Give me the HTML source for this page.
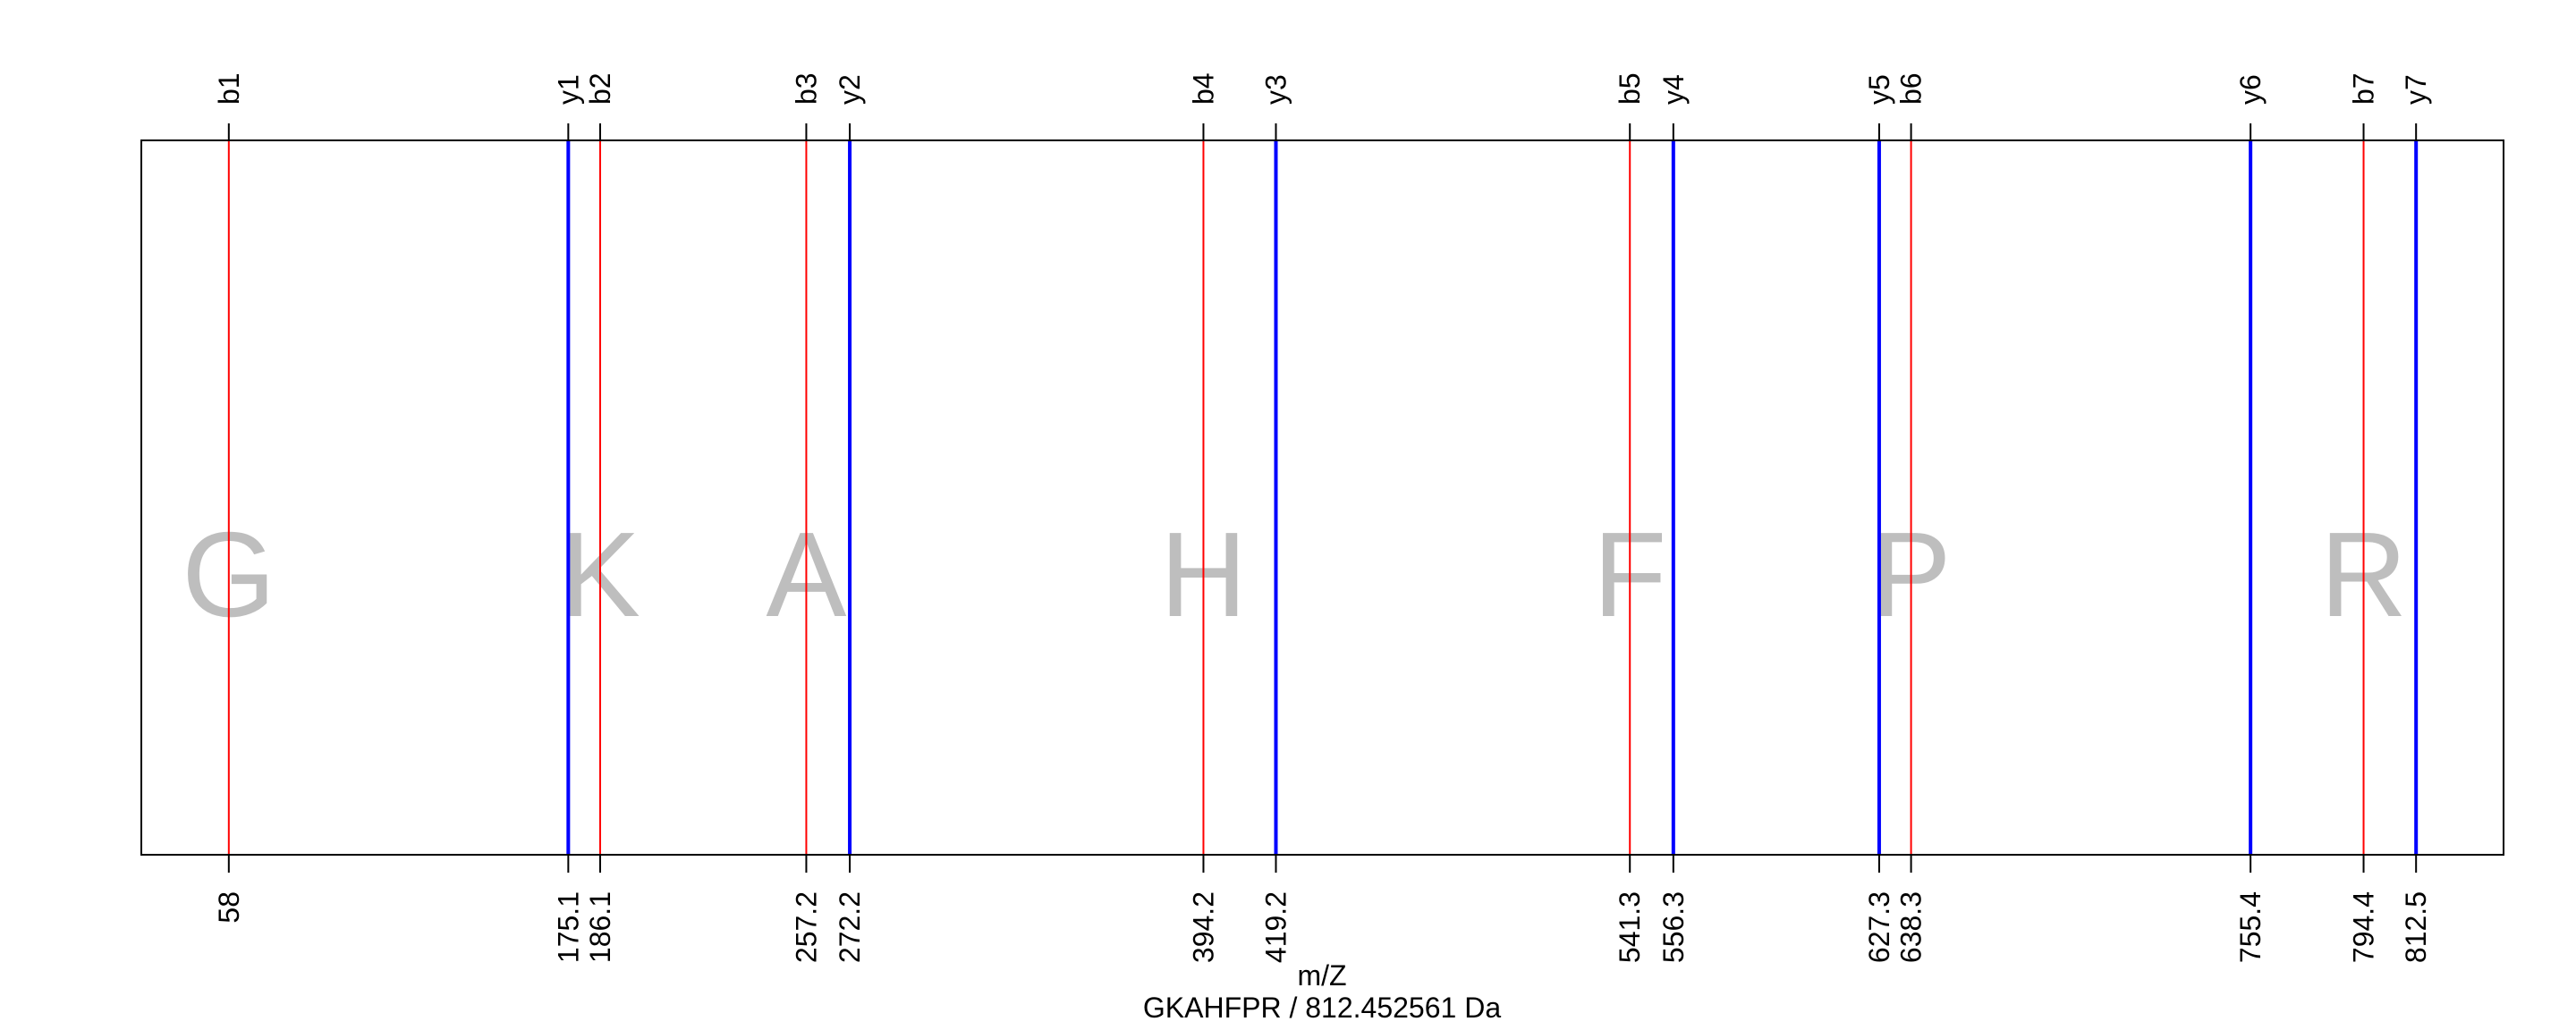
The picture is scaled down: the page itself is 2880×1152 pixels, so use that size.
<!DOCTYPE html>
<html><head><meta charset="utf-8"><style>
html,body{margin:0;padding:0;background:#fff;}
svg{display:block;font-family:"Liberation Sans",Arial,sans-serif;}
</style></head><body>
<svg id="chart" width="2880" height="1152" viewBox="0 0 2880 1152" xmlns="http://www.w3.org/2000/svg">
<g id="letters"></g>
<g id="lines"></g>
<rect x="158" y="157" width="2641" height="799" fill="none" stroke="#000" stroke-width="2"/>
<g id="axes"></g>
<text x="1478" y="1102" font-size="32" text-anchor="middle">m/Z</text>
<text x="1478" y="1138" font-size="32" text-anchor="middle">GKAHFPR / 812.452561 Da</text>
</svg>
<script>
const bLabels = ["b1","b2","b3","b4","b5","b6","b7"];
const bValues = [58, 186.1, 257.2, 394.2, 541.3, 638.3, 794.4];
const yLabels = ["y1","y2","y3","y4","y5","y6","y7"];
const yValues = [175.1, 272.2, 419.2, 556.3, 627.3, 755.4, 812.5];
const residues = ["G","K","A","H","F","P","R"];
const xDomain = [27.82, 842.68];

const NS = "http://www.w3.org/2000/svg";
const L = 158, R = 2799, T = 157, B = 956;
function xs(v){ return L + (v - xDomain[0]) / (xDomain[1] - xDomain[0]) * (R - L); }
function mk(tag, attrs, parent){
  const e = document.createElementNS(NS, tag);
  for (const k in attrs) e.setAttribute(k, attrs[k]);
  parent.appendChild(e);
  return e;
}
const gL = document.getElementById('letters');
const gLines = document.getElementById('lines');
const gA = document.getElementById('axes');

residues.forEach((r, i) => {
  const t = mk('text', {x: xs(bValues[i]), y: 689, 'font-size': 135, 'text-anchor': 'middle', fill: '#bebebe'}, gL);
  
  
  t.textContent = r;
});

function fmt(v){ return String(v); }

function drawSeries(vals, labs, color, width, kind){
  vals.forEach((v, i) => {
    const x = xs(v);
    const ln = mk('line', {x1: x, x2: x, y1: T, y2: B, stroke: color, 'stroke-width': width}, gLines);
    
    
    const tt = mk('line', {x1: x, x2: x, y1: 138, y2: T, stroke: '#000', 'stroke-width': 2}, gA);
    
    
    const bt = mk('line', {x1: x, x2: x, y1: B, y2: 976, stroke: '#000', 'stroke-width': 2}, gA);
    
    
    const tl = mk('text', {x: 0, y: 0, 'font-size': 32, 'text-anchor': 'start', transform: 'translate(' + (x + 11) + ',117) rotate(-90)'}, gA);
    
    
    tl.textContent = labs[i];
    const bl = mk('text', {x: 0, y: 0, 'font-size': 32, 'text-anchor': 'end', transform: 'translate(' + (x + 11) + ',997) rotate(-90)'}, gA);
    
    
    bl.textContent = fmt(v);
  });
}
drawSeries(bValues, bLabels, '#ff0000', 2, 'b');
drawSeries(yValues, yLabels, '#0000ff', 4, 'y');
</script>
</body></html>
